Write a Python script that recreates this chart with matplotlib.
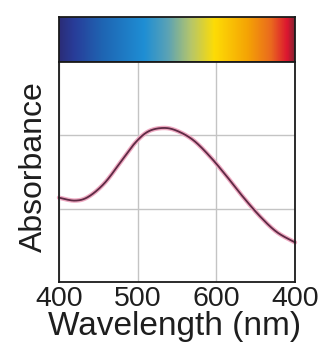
import numpy as np
import matplotlib
matplotlib.use("Agg")
import matplotlib.pyplot as plt
from matplotlib.colors import LinearSegmentedColormap

plt.rcParams['font.family'] = ['Liberation Sans', 'DejaVu Sans']

# Absorption spectrum sampled along the visible range
wavelength = [400, 420, 437, 458, 480, 497, 513, 531, 548, 570, 592, 614, 634, 656, 677, 700]
absorbance = [1.15, 1.11, 1.16, 1.35, 1.66, 1.90, 2.05, 2.10, 2.07, 1.94, 1.71, 1.43,
              1.16, 0.89, 0.68, 0.54]

tick_positions = [400, 500, 600, 700]
tick_labels = ['400', '500', '600', '400']

# Spectrum colours for the strip above the plot
spectrum_stops = [0.0, 0.06, 0.18, 0.36, 0.46, 0.56, 0.66, 0.80, 0.90, 0.97, 1.0]
spectrum_colors = ['#2b2d78', '#283c98', '#1f64b2', '#1e8ed4', '#5aa2b6', '#b6c66a',
                   '#fddc06', '#f5a404', '#ea6a1e', '#dc1630', '#8c2232']

W, H = 330, 358
fig = plt.figure(figsize=(W / 100, H / 100), dpi=100)
left, right = 59 / W, 295 / W
y_bottom, y_mid, y_top = (H - 282) / H, (H - 62) / H, (H - 17) / H

ax_bar = fig.add_axes([left, y_mid, right - left, y_top - y_mid])
cmap = LinearSegmentedColormap.from_list('spectrum', list(zip(spectrum_stops, spectrum_colors)))
ax_bar.imshow(np.linspace(0, 1, 400)[None, :], aspect='auto', cmap=cmap,
              extent=[400, 700, 0, 1])
ax_bar.set_xticks([])
ax_bar.set_yticks([])
for s in ax_bar.spines.values():
    s.set_color('#1a1a1a')
    s.set_linewidth(1.3)

ax = fig.add_axes([left, y_bottom, right - left, y_mid - y_bottom])
ax.set_xlim(400, 700)
ax.set_ylim(0, 3)
ax.set_xticks(tick_positions)
ax.set_xticklabels(tick_labels, fontsize=20.5, color='#1e1e1e')
ax.set_yticks([1, 2])
ax.set_yticklabels([])
ax.tick_params(length=0, pad=3)
ax.grid(True, color='#c4c4c4', linewidth=1.0)
ax.set_axisbelow(True)
for s in ax.spines.values():
    s.set_color('#1a1a1a')
    s.set_linewidth(1.3)


def catmull(p, tt):
    """Catmull-Rom spline through the sample points."""
    out = []
    n = len(p)
    for u in tt:
        i = min(int(np.floor(u)), n - 2)
        f = u - i
        p0 = p[max(i - 1, 0)]; p1 = p[i]; p2 = p[i + 1]; p3 = p[min(i + 2, n - 1)]
        out.append(0.5 * ((2 * p1) + (-p0 + p2) * f + (2 * p0 - 5 * p1 + 4 * p2 - p3) * f ** 2
                          + (-p0 + 3 * p1 - 3 * p2 + p3) * f ** 3))
    return np.array(out)


xs = np.array(wavelength, float)
ys = np.array(absorbance, float)
tt = np.linspace(0, len(xs) - 1, 600)
cx, cy = catmull(xs, tt), catmull(ys, tt)
ax.plot(cx, cy, color='#eeaac2', linewidth=3.2, solid_capstyle='round', clip_on=False)
ax.plot(cx, cy, color='#5e2a44', linewidth=1.3, solid_capstyle='round', clip_on=False)

fig.text(175 / W, (H - 335) / H, 'Wavelength (nm)', fontsize=24, color='#1e1e1e',
         ha='center', va='baseline')
fig.text(42 / W, (H - 167) / H, 'Absorbance', fontsize=23, color='#1e1e1e',
         rotation=90, rotation_mode='anchor', ha='center', va='baseline')

fig.savefig('out.png', dpi=100)
